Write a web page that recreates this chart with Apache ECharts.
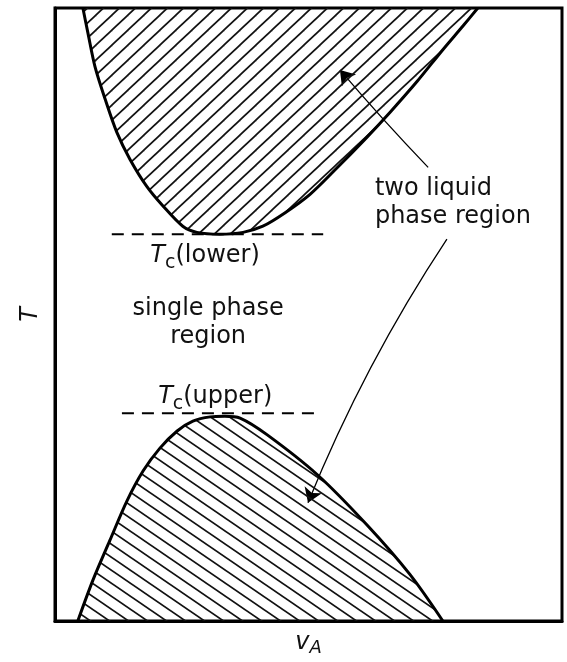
<!DOCTYPE html>
<html>
<head>
<meta charset="utf-8">
<script src="https://cdn.jsdelivr.net/npm/echarts@6/dist/echarts.min.js"></script>
<style>html,body{margin:0;background:#fff}#chart{width:567px;height:662px}</style>
</head>
<body>
<div id="chart"></div>
<script>
// upper two-phase boundary (lower critical point)
var upperX = [5.5, 6.5, 7.9, 9.9, 12.2, 14.8, 18.1, 21.3, 25.2, 28.0, 32.5, 37.1, 41.0, 45.4, 50.3, 55.6, 61.5, 66.1, 71.4, 76.5, 80.5, 83.4];
var upperY = [100, 95.9, 90.4, 85.1, 79.7, 75.3, 70.9, 67.7, 64.4, 63.4, 63.1, 63.4, 64.4, 66.6, 69.6, 73.9, 78.9, 83.0, 88.0, 93.2, 97.1, 100];
// lower two-phase boundary (upper critical point)
var lowerX = [4.5, 7.5, 10.8, 14.2, 17.4, 20.7, 24.1, 27.2, 30.6, 33.5, 36.5, 41.8, 51.7, 61.5, 70.0, 76.5];
var lowerY = [0, 6.7, 13.1, 19.6, 24.5, 28.2, 31.0, 32.6, 33.3, 33.4, 33.1, 30.4, 23.9, 15.7, 7.6, 0];
// critical temperature lines
var tcLowerX = [11.2, 52.9], tcLowerY = 63.1;
var tcUpperX = [13.2, 52.3], tcUpperY = 33.9;
// text annotations
var labelX = [29.6, 31.6, 30.2, 63.1];
var labelY = [59.6, 36.6, 48.6, 68.2];
var labelText = ['{t|T}{c|c}{n|(lower)}', '{t|T}{c|c}{n|(upper)}', 'single phase\nregion', 'two liquid\nphase region'];
// arrows from the label to both regions
var arrowFrom = [[73.6, 74.0], [77.3, 62.3]];
var arrowTo = [[56.2, 89.9], [49.9, 19.3]];
var arrowBend = [0.015, -0.05];

var FONT = 'DejaVu Sans';
var INK = '#111';

function zip(xs, ys) {
    var out = [];
    for (var i = 0; i < xs.length; i++) out.push([xs[i], ys[i]]);
    return out;
}

// hatch tile, dir 1 = "/", -1 = "\"
function hatch(w, h, dir) {
    var c = document.createElement('canvas');
    c.width = w; c.height = h;
    var g = c.getContext('2d');
    g.strokeStyle = '#111';
    g.lineWidth = 1.7;
    for (var k = -1; k <= 2; k++) {
        g.beginPath();
        if (dir > 0) {
            g.moveTo(-w, h * (k + 1));
            g.lineTo(2 * w, h * (k - 2));
        } else {
            g.moveTo(-w, h * (-1 - k));
            g.lineTo(2 * w, h * (2 - k));
        }
        g.stroke();
    }
    return { image: c, repeat: 'repeat' };
}

var arrowData = [];
for (var a = 0; a < arrowFrom.length; a++) {
    arrowData.push({ coords: [arrowFrom[a], arrowTo[a]], lineStyle: { curveness: arrowBend[a] } });
}

var rich = {
    t: { fontFamily: FONT, fontSize: 24, fontStyle: 'italic', color: INK, lineHeight: 34 },
    c: { fontFamily: FONT, fontSize: 19, color: INK, verticalAlign: 'bottom', lineHeight: 20 },
    n: { fontFamily: FONT, fontSize: 24, color: INK, lineHeight: 34 }
};

var labelData = [];
for (var i = 0; i < labelText.length; i++) {
    labelData.push({
        value: [labelX[i], labelY[i]],
        label: { formatter: labelText[i], align: i === 3 ? 'left' : 'center' }
    });
}

var chart = echarts.init(document.getElementById('chart'));
chart.setOption({
    backgroundColor: '#fff',
    animation: false,
    grid: { left: 55, right: 5, top: 8, bottom: 38, show: true, borderColor: '#000', borderWidth: 3 },
    xAxis: {
        type: 'value', min: 0, max: 100,
        name: '{v|v}{a|A}', nameLocation: 'middle', nameGap: 8,
        nameTextStyle: {
            rich: {
                v: { fontFamily: FONT, fontSize: 24, fontStyle: 'italic', color: INK, lineHeight: 28 },
                a: { fontFamily: FONT, fontSize: 18, fontStyle: 'italic', color: INK, verticalAlign: 'bottom', lineHeight: 20 }
            }
        },
        axisLine: { lineStyle: { color: '#000', width: 3 } },
        axisTick: { show: false }, axisLabel: { show: false }, splitLine: { show: false }
    },
    yAxis: {
        type: 'value', min: 0, max: 100,
        name: 'T', nameLocation: 'middle', nameGap: 12,
        nameTextStyle: { fontFamily: FONT, fontSize: 24, fontStyle: 'italic', color: INK },
        axisLine: { lineStyle: { color: '#000', width: 3 } },
        axisTick: { show: false }, axisLabel: { show: false }, splitLine: { show: false }
    },
    series: [
        {
            type: 'line', data: zip(upperX, upperY), smooth: 0.3, symbol: 'none',
            lineStyle: { color: '#000', width: 3 },
            areaStyle: { origin: 'end', color: hatch(16, 15, 1), opacity: 1 }
        },
        {
            type: 'line', data: zip(lowerX, lowerY), smooth: 0.3, symbol: 'none',
            lineStyle: { color: '#000', width: 3 },
            areaStyle: { origin: 'start', color: hatch(19, 13, -1), opacity: 1 }
        },
        {
            type: 'line', data: zip(tcLowerX, [tcLowerY, tcLowerY]), symbol: 'none',
            lineStyle: { color: '#000', width: 2, type: [12, 8] }
        },
        {
            type: 'line', data: zip(tcUpperX, [tcUpperY, tcUpperY]), symbol: 'none',
            lineStyle: { color: '#000', width: 2, type: [12, 8] }
        },
        {
            type: 'lines', coordinateSystem: 'cartesian2d', data: arrowData,
            symbol: ['none', 'arrow'], symbolSize: [9, 14], silent: true,
            lineStyle: { color: '#000', width: 1.3, opacity: 1 }
        },
        {
            type: 'scatter', data: labelData, symbolSize: 0,
            itemStyle: { opacity: 1 },
            label: {
                show: true, position: 'inside', fontFamily: FONT, fontSize: 24,
                color: INK, lineHeight: 28, rich: rich
            }
        }
    ]
});
</script>
</body>
</html>
